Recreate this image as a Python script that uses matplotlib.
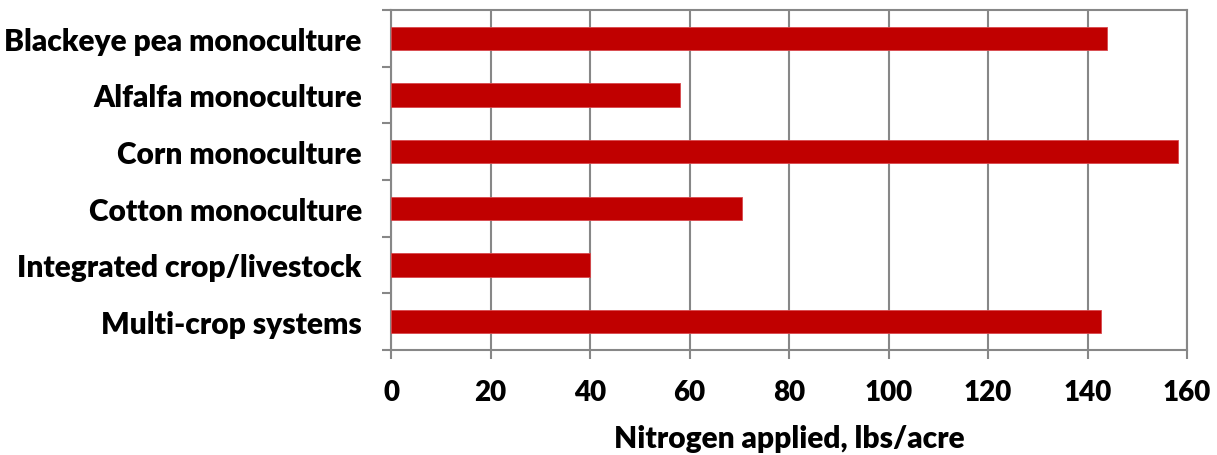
import numpy as np
import matplotlib
matplotlib.use("Agg")
import matplotlib.pyplot as plt

# nitrogen applied per system, lbs/acre
systems = ["Blackeye pea monoculture", "Alfalfa monoculture", "Corn monoculture",
           "Cotton monoculture", "Integrated crop/livestock", "Multi-crop systems"]
nitrogen = [144, 58, 158.2, 70.5, 40, 142.7]
xticks = [0, 20, 40, 60, 80, 100, 120, 140, 160]

grey = "#878787"
plt.rcParams['font.family'] = ['Lato', 'DejaVu Sans']

fig = plt.figure(figsize=(12.17, 4.56), dpi=100)
ax = fig.add_axes([391/1217, 1 - 351/456, (1187 - 391)/1217, 340/456])

y = np.arange(len(systems))
ax.barh(y, nitrogen, height=0.41, color="#C00000", edgecolor="#d9484c",
        linewidth=0.6, zorder=3)

ax.set_xlim(0, 160)
ax.set_ylim(len(systems) - 0.5, -0.5)
ax.set_xticks(xticks)
ax.set_xticklabels([str(v) for v in xticks], fontsize=20, fontweight='heavy')
ax.xaxis.grid(True, color=grey, linewidth=1.5, zorder=0)

# category labels on majors, separator ticks on minors
ax.set_yticks(y)
ax.set_yticklabels(systems, fontsize=21.5, fontweight='heavy')
ax.set_yticks(np.arange(-0.5, len(systems)), minor=True)
ax.tick_params(axis='y', which='major', length=0, pad=21)
ax.tick_params(axis='y', which='minor', length=6.5, width=1.5, color=grey)
ax.tick_params(axis='x', length=6.5, width=1.5, color=grey, pad=14.5)

for s in ax.spines.values():
    s.set_color(grey)
    s.set_linewidth(1.5)

ax.set_xlabel("Nitrogen applied, lbs/acre", fontsize=21.5, fontweight='heavy', labelpad=13.5)

fig.savefig("out.png", dpi=100)
